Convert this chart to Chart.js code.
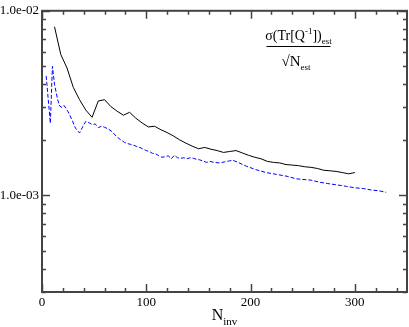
<!DOCTYPE html>
<html>
<head>
<meta charset="utf-8">
<script src="https://cdn.jsdelivr.net/npm/chart.js@4.4.0/dist/chart.umd.min.js"></script>
<style>
  html, body { margin: 0; padding: 0; background: #fff; }
</style>
</head>
<body>
<canvas id="chart" width="409" height="327"></canvas>
<script>
// solid black curve
const blackN = [12, 18, 24, 30, 36, 42, 48, 54, 60, 66, 72, 78, 84, 90, 96, 102, 108, 114, 120, 126,
  132, 138, 144, 150, 156, 162, 168, 174, 180, 186, 192, 198, 204, 210, 216, 222, 228, 234, 240, 246,
  252, 258, 264, 270, 276, 282, 288, 294, 300];
const blackV = [8.2e-3, 5.8e-3, 4.9e-3, 3.85e-3, 3.3e-3, 2.9e-3, 2.65e-3, 3.25e-3, 3.3e-3, 3.03e-3,
  2.86e-3, 2.72e-3, 2.82e-3, 2.62e-3, 2.47e-3, 2.35e-3, 2.37e-3, 2.27e-3, 2.19e-3, 2.1e-3,
  2.0e-3, 1.92e-3, 1.85e-3, 1.79e-3, 1.82e-3, 1.78e-3, 1.75e-3, 1.71e-3, 1.73e-3, 1.75e-3,
  1.70e-3, 1.65e-3, 1.61e-3, 1.58e-3, 1.53e-3, 1.51e-3, 1.50e-3, 1.47e-3, 1.46e-3, 1.45e-3,
  1.43e-3, 1.42e-3, 1.40e-3, 1.37e-3, 1.36e-3, 1.35e-3, 1.33e-3, 1.31e-3, 1.33e-3];

// dashed blue curve
const blueN = [4, 8, 10, 12, 15, 17, 19, 21, 23, 25, 29, 32, 36, 39, 42, 45, 48, 51, 54, 57, 60, 63,
  67, 71, 75, 79, 82, 85, 88, 91, 94, 97, 100, 103, 106, 109, 112, 115, 118, 121, 124, 127, 130,
  133, 136, 139, 142, 145, 148, 151, 154, 158, 161, 165, 170, 175, 180, 183, 188, 196, 205, 215,
  225, 235, 244, 258, 266, 274, 283, 292, 300, 308, 316, 323, 330];
const blueV = [4.44e-3, 2.46e-3, 5.0e-3, 4.0e-3, 3.3e-3, 3.05e-3, 3.0e-3, 3.08e-3, 2.96e-3, 2.84e-3,
  2.55e-3, 2.32e-3, 2.18e-3, 2.35e-3, 2.52e-3, 2.48e-3, 2.42e-3, 2.44e-3, 2.33e-3, 2.37e-3, 2.34e-3,
  2.30e-3, 2.22e-3, 2.10e-3, 2.01e-3, 1.94e-3, 1.91e-3, 1.89e-3, 1.87e-3, 1.84e-3, 1.82e-3, 1.78e-3,
  1.75e-3, 1.73e-3, 1.69e-3, 1.68e-3, 1.64e-3, 1.61e-3, 1.62e-3, 1.64e-3, 1.58e-3, 1.65e-3, 1.60e-3,
  1.59e-3, 1.60e-3, 1.58e-3, 1.60e-3, 1.59e-3, 1.57e-3, 1.56e-3, 1.54e-3, 1.51e-3, 1.53e-3, 1.51e-3,
  1.50e-3, 1.52e-3, 1.54e-3, 1.55e-3, 1.51e-3, 1.44e-3, 1.38e-3, 1.33e-3, 1.30e-3, 1.27e-3, 1.23e-3,
  1.21e-3, 1.18e-3, 1.16e-3, 1.14e-3, 1.12e-3, 1.10e-3, 1.09e-3, 1.07e-3, 1.06e-3, 1.04e-3];

// axis ticks
const xTicks = [0, 100, 200, 300];
const xMinorTicks = [20, 40, 60, 80, 120, 140, 160, 180, 220, 240, 260, 280, 320, 340];
const yTicks = [1e-3, 1e-2];
const yMinorTicks = [3e-4, 4e-4, 5e-4, 6e-4, 7e-4, 8e-4, 9e-4, 2e-3, 3e-3, 4e-3, 5e-3, 6e-3, 7e-3, 8e-3, 9e-3];

const SERIF = '"Liberation Serif", "DejaVu Serif", serif';

function fmtExp(v) {
    // 1.0e-3 -> 1.0e-03
    return v.toExponential(1).replace(/e([+-])(\d)$/, 'e$10$2');
}

// frame, inward ticks on all four sides, axis title and the annotation
const decorPlugin = {
    id: 'decor',
    afterDraw(chart) {
        const ctx = chart.ctx;
        const a = chart.chartArea;
        const xs = chart.scales.x, ys = chart.scales.y;
        ctx.save();

        ctx.strokeStyle = '#444';
        ctx.lineWidth = 1.5;
        ctx.beginPath();
        xTicks.forEach(v => {
            const px = Math.round(xs.getPixelForValue(v)) + 0.5;
            ctx.moveTo(px, a.bottom); ctx.lineTo(px, a.bottom - 8);
            ctx.moveTo(px, a.top); ctx.lineTo(px, a.top + 8);
        });
        xMinorTicks.forEach(v => {
            const px = Math.round(xs.getPixelForValue(v)) + 0.5;
            ctx.moveTo(px, a.bottom); ctx.lineTo(px, a.bottom - 4);
            ctx.moveTo(px, a.top); ctx.lineTo(px, a.top + 4);
        });
        yTicks.forEach(v => {
            const py = Math.round(ys.getPixelForValue(v)) + 0.5;
            ctx.moveTo(a.left, py); ctx.lineTo(a.left + 8, py);
            ctx.moveTo(a.right, py); ctx.lineTo(a.right - 8, py);
        });
        yMinorTicks.forEach(v => {
            const py = Math.round(ys.getPixelForValue(v)) + 0.5;
            ctx.moveTo(a.left, py); ctx.lineTo(a.left + 4, py);
            ctx.moveTo(a.right, py); ctx.lineTo(a.right - 4, py);
        });
        ctx.stroke();

        ctx.lineWidth = 2;
        ctx.strokeRect(a.left, a.top, a.right - a.left, a.bottom - a.top);

        // x title: N_inv
        ctx.fillStyle = '#000';
        ctx.textBaseline = 'alphabetic';
        ctx.textAlign = 'left';
        ctx.font = '16px ' + SERIF;
        const wN = ctx.measureText('N').width;
        ctx.font = '11px ' + SERIF;
        const wInv = ctx.measureText('inv').width;
        const cx = (a.left + a.right) / 2;
        let x0 = cx - (wN + wInv) / 2;
        ctx.font = '16px ' + SERIF;
        ctx.fillText('N', x0, 320);
        ctx.font = '11px ' + SERIF;
        ctx.fillText('inv', x0 + wN, 325);

        // annotation: sigma(Tr[Q^-1])_est / sqrt(N_est)
        const big = '14px ' + SERIF, small = '9px ' + SERIF;
        const parts1 = [['\u03c3(Tr[Q', big, 0], ['-1', small, -6], ['])', big, 0], ['est', small, 4]];
        const parts2 = [['\u221aN', '15px ' + SERIF, 0], ['est', small, 4]];
        function drawParts(parts, centerX, baseY) {
            let total = 0;
            parts.forEach(p => { ctx.font = p[1]; total += ctx.measureText(p[0]).width; });
            let x = centerX - total / 2;
            parts.forEach(p => {
                ctx.font = p[1];
                ctx.fillText(p[0], x, baseY + p[2]);
                x += ctx.measureText(p[0]).width;
            });
        }
        drawParts(parts1, 298.5, 40);
        ctx.strokeStyle = '#000';
        ctx.lineWidth = 1;
        ctx.beginPath();
        ctx.moveTo(266.5, 46.5); ctx.lineTo(330.5, 46.5);
        ctx.stroke();
        drawParts(parts2, 296, 66);

        ctx.restore();
    }
};

const ctx = document.getElementById('chart').getContext('2d');
new Chart(ctx, {
    type: 'line',
    data: {
        datasets: [
            {
                data: blackN.map((n, i) => ({ x: n, y: blackV[i] })),
                borderColor: '#000',
                borderWidth: 1,
                pointRadius: 0,
                tension: 0
            },
            {
                data: blueN.map((n, i) => ({ x: n, y: blueV[i] })),
                borderColor: '#0000ff',
                borderWidth: 1,
                borderDash: [4, 2],
                pointRadius: 0,
                tension: 0
            }
        ]
    },
    options: {
        responsive: false,
        animation: false,
        layout: { padding: { top: 5, right: 2, left: 0, bottom: 0 } },
        plugins: {
            legend: { display: false },
            tooltip: { enabled: false }
        },
        scales: {
            x: {
                type: 'linear',
                min: 0,
                max: 350,
                afterBuildTicks: s => { s.ticks = xTicks.map(v => ({ value: v })); },
                afterFit: s => { s.height = 35; },
                grid: { drawOnChartArea: false, drawTicks: false },
                border: { display: false },
                ticks: {
                    color: '#000',
                    padding: 3,
                    maxRotation: 0,
                    autoSkip: false,
                    font: { family: SERIF, size: 13 }
                }
            },
            y: {
                type: 'logarithmic',
                min: 3e-4,
                max: 1e-2,
                afterBuildTicks: s => { s.ticks = yTicks.map(v => ({ value: v })); },
                afterFit: s => { s.width = 42; },
                grid: { drawOnChartArea: false, drawTicks: false },
                border: { display: false },
                ticks: {
                    color: '#000',
                    padding: 3,
                    autoSkip: false,
                    font: { family: SERIF, size: 13 },
                    callback: v => fmtExp(v)
                }
            }
        }
    },
    plugins: [decorPlugin]
});
</script>
</body>
</html>
